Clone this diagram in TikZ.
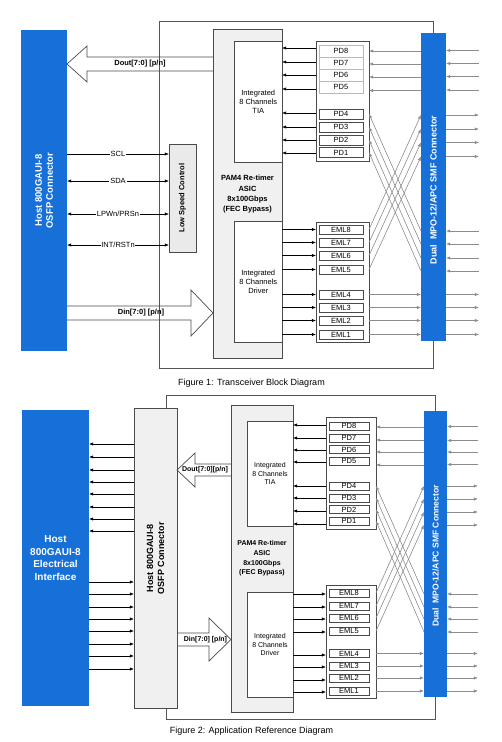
\documentclass[tikz,border=0pt]{standalone}
\usepackage{fontspec}
\setmainfont{Liberation Sans}
\usetikzlibrary{arrows.meta}
\definecolor{hblue}{HTML}{1670D8}
\definecolor{asicgray}{HTML}{F0F0F0}
\definecolor{lscgray}{HTML}{EAEAEA}
\definecolor{optgray}{HTML}{8C8C8C}
\definecolor{framegray}{HTML}{555555}
\definecolor{boxline}{HTML}{4A4A4A}
\newcommand\fsz[2]{\fontsize{#1}{#2}\selectfont}
\tikzset{
  box/.style={draw=boxline, line width=0.8pt, inner sep=0pt, outer sep=0pt},
  chip/.style={box, fill=asicgray},
  wbox/.style={box, fill=white, align=center, font=\fsz{7.5}{9}},
  bluebox/.style={fill=hblue, draw=none, inner sep=0pt, outer sep=0pt},
  cell/.style={draw=boxline, line width=0.7pt, fill=white, inner sep=0pt, outer sep=0pt, font=\fsz{7.5}{9}},
  lcell/.style={cell, draw=black!28},
  modframe/.style={draw=framegray, line width=0.8pt, inner sep=0pt, outer sep=0pt},
  elec/.style={line width=0.6pt, black, -{Latex[length=4.2pt,width=3.3pt]}},
  elecb/.style={line width=0.6pt, black, {Latex[length=4.2pt,width=3.3pt]}-{Latex[length=4.2pt,width=3.3pt]}},
  opt/.style={line width=0.6pt, optgray, -{Latex[length=4.2pt,width=3.3pt]}},
  fat/.style={draw=boxline, line width=0.7pt, line join=miter},
  sig/.style={fill=white, inner sep=0.8pt, font=\fsz{7.5}{9}},
  wlabel/.style={text=white, font=\bfseries\fsz{9.5}{11}, align=center, rotate=90},
  blabel/.style={font=\bfseries\fsz{7.5}{9}, align=center},
  caption/.style={font=\fsz{9}{11}},
}
\begin{document}
\begin{tikzpicture}[x=1pt,y=-1pt]
\useasboundingbox (0,0) rectangle (501,742);

% ================= Figure 1 =================
\node[modframe, minimum width=274, minimum height=347, anchor=north west] (f1frame) at (159,21) {};

\node[bluebox, minimum width=46, minimum height=321] (f1host) at (44,190.5) {};
\node[wlabel] (f1hostlbl) at (f1host.center) {Host 800GAUI-8\\OSFP Connector};

\node[chip, minimum width=69, minimum height=329] (f1asic) at (247.5,193.5) {};
\node[blabel, font=\bfseries\fsz{7.5}{10.3}] (f1asiclbl) at (247.5,194.5) {PAM4 Re-timer\\ASIC\\8x100Gbps\\(FEC Bypass)};
\node[wbox, minimum width=47.5, minimum height=121] (f1tia) at (258.25,101.5) {Integrated\\8 Channels\\TIA};
\node[wbox, minimum width=47.5, minimum height=121] (f1drv) at (258.25,281.5) {Integrated\\8 Channels\\Driver};

% big data arrows
\draw[fat] (f1asic.west |- 0,57) -- (87,57) -- (87,46) -- (f1host.east |- 0,64) -- (87,82) -- (87,71) -- (f1asic.west |- 0,71);
\node[blabel] (f1doutlbl) at (140,64) {Dout[7:0] [p/n]};
\draw[fat] (f1host.east |- 0,306) -- (191,306) -- (191,290) -- (f1asic.west |- 0,313) -- (191,336) -- (191,320) -- (f1host.east |- 0,320);
\node[blabel] (f1dinlbl) at (141,313) {Din[7:0] [p/n]};

% low speed control
\node[box, fill=lscgray, minimum width=27, minimum height=108] (f1lsc) at (182.5,198) {};
\node[blabel, rotate=90] (f1lsclbl) at (f1lsc.center) {Low Speed Control};
\draw[elec] (f1host.east |- 0,154) -- node[sig] (f1scl) {SCL} (f1lsc.west |- 0,154);
\draw[elecb] (f1host.east |- 0,181) -- node[sig] (f1sda) {SDA} (f1lsc.west |- 0,181);
\draw[elecb] (f1host.east |- 0,214) -- node[sig] (f1lpw) {LPWn/PRSn} (f1lsc.west |- 0,214);
\draw[elecb] (f1host.east |- 0,245) -- node[sig] (f1int) {INT/RSTn} (f1lsc.west |- 0,245);

% PD group
\node[box, fill=white, minimum width=53, minimum height=120] (f1pdbox) at (342.5,101) {};
\foreach \n/\y in {8/51,7/63,6/75,5/87}
  \node[lcell, minimum width=44, minimum height=12] (f1pd\n) at (341,\y) {PD\n};
\foreach \n/\y in {4/114,3/127,2/140,1/152.5}
  \node[cell, minimum width=44, minimum height=10] (f1pd\n) at (341,\y) {PD\n};
\foreach \y in {48,62,75,89,113,127,140,153}
  \draw[elec] (f1pdbox.west |- 0,\y) -- (f1tia.east |- 0,\y);

% EML group
\node[box, fill=white, minimum width=53, minimum height=120] (f1emlbox) at (342.5,282) {};
\foreach \n/\y in {8/229.5,7/242.5,6/255.5,5/269.5,4/294.5,3/307.5,2/320.5,1/334.5}
  \node[cell, minimum width=44, minimum height=9] (f1eml\n) at (341,\y) {EML\n};
\foreach \n in {8,...,1}
  \draw[elec] (f1drv.east |- f1eml\n) -- (f1emlbox.west |- f1eml\n);

% MPO
\node[bluebox, minimum width=25, minimum height=308] (f1mpo) at (433.5,187) {};
\node[wlabel, font=\bfseries\fsz{9}{11}] (f1mpolbl) at (433.5,190) {Dual\ \ MPO-12/APC SMF Connector};

% optical paths
\foreach \y in {51,64,77,90.5}
  \draw[opt] (f1mpo.west |- 0,\y) -- (f1pdbox.east |- 0,\y);
\foreach \y [count=\i] in {50.5,63.5,76.5,90}
  {\coordinate (f1ia\i) at (479,\y); \draw[opt] (f1ia\i) -- (f1mpo.east |- f1ia\i);}
\foreach \y [count=\i] in {115,129,142.5,156.5}
  {\coordinate (f1oa\i) at (479,\y); \draw[opt] (f1mpo.east |- f1oa\i) -- (f1oa\i);}
\foreach \n/\y in {8/115,7/129,6/142.5,5/156.5}
  \draw[opt] (f1emlbox.east |- f1eml\n) -- (f1mpo.west |- 0,\y);
\foreach \n/\y in {4/231,3/244,2/258,1/271}
  \draw[opt] (f1mpo.west |- 0,\y) -- (f1pdbox.east |- f1pd\n);
\foreach \y [count=\i] in {231,244,258,271}
  {\coordinate (f1ib\i) at (479,\y); \draw[opt] (f1ib\i) -- (f1mpo.east |- f1ib\i);}
\foreach \n in {4,...,1}
  {\draw[opt] (f1emlbox.east |- f1eml\n) -- (f1mpo.west |- f1eml\n);
   \coordinate (f1ob\n) at (479,0 |- f1eml\n);
   \draw[opt] (f1mpo.east |- f1eml\n) -- (f1ob\n);}

\node[caption] (f1cap) at (251.5,383) {Figure 1: Transceiver Block Diagram};

% ================= Figure 2 =================
\node[modframe, minimum width=269, minimum height=324, anchor=north west] (f2frame) at (166,395) {};

\node[bluebox, minimum width=67, minimum height=296] (f2host) at (55.5,558) {};
\node[text=white, font=\bfseries\fsz{10}{12.7}, align=center] (f2hostlbl) at (f2host.center) {Host\\800GAUI-8\\Electrical\\Interface};

\node[chip, minimum width=43, minimum height=300] (f2osfp) at (155.5,558) {};
\node[blabel, rotate=90, font=\bfseries\fsz{9}{11}] (f2osfplbl) at (f2osfp.center) {Host 800GAUI-8\\OSFP Connector};

\foreach \y [count=\i] in {444,457,470,482,494,507,519,531}
  \draw[elec] (f2osfp.west |- 0,\y) -- (f2host.east |- 0,\y);
\foreach \y [count=\i] in {582,594,607,619,631,644,656,669}
  \draw[elec] (f2host.east |- 0,\y) -- (f2osfp.west |- 0,\y);

\node[chip, minimum width=62, minimum height=307] (f2asic) at (262,558.5) {};
\node[blabel, font=\bfseries\fsz{7}{9.7}] (f2asiclbl) at (262,558.5) {PAM4 Re-timer\\ASIC\\8x100Gbps\\(FEC Bypass)};
\node[wbox, font=\fsz{7}{8.5}, minimum width=46, minimum height=105] (f2tia) at (270,473.5) {Integrated\\8 Channels\\TIA};
\node[wbox, font=\fsz{7}{8.5}, minimum width=46, minimum height=105] (f2drv) at (270,644.5) {Integrated\\8 Channels\\Driver};

\draw[fat] (f2asic.west |- 0,464) -- (195,464) -- (195,453) -- (f2osfp.east |- 0,470) -- (195,487) -- (195,476) -- (f2asic.west |- 0,476);
\node[blabel, font=\bfseries\fsz{7}{9}] (f2doutlbl) at (205,470) {Dout[7:0][p/n]};
\draw[fat] (f2osfp.east |- 0,633) -- (209,633) -- (209,618) -- (f2asic.west |- 0,639.5) -- (209,661) -- (209,646) -- (f2osfp.east |- 0,646);
\node[blabel, font=\bfseries\fsz{7}{9}] (f2dinlbl) at (205.5,639.5) {Din[7:0] [p/n]};

% PD group
\node[box, fill=white, minimum width=50, minimum height=112] (f2pdbox) at (351,473) {};
\foreach \n/\y in {8/426,7/438,6/449.5,5/461,4/486,3/498,2/509.5,1/521}
  \node[cell, minimum width=40, minimum height=8] (f2pd\n) at (349,\y) {PD\n};
\foreach \y in {425,438,450,462,486,498,511,524}
  \draw[elec] (f2pdbox.west |- 0,\y) -- (f2tia.east |- 0,\y);

% EML group
\node[box, fill=white, minimum width=50, minimum height=113] (f2emlbox) at (351,641.5) {};
\foreach \n/\y in {8/593,7/606,6/618,5/631,4/653.5,3/666,2/678,1/691}
  \node[cell, minimum width=40, minimum height=8] (f2eml\n) at (349,\y) {EML\n};
\foreach \n/\y in {8/594,7/607,6/619,5/632,4/655,3/667,2/680,1/692}
  \draw[elec] (f2drv.east |- 0,\y) -- (f2emlbox.west |- 0,\y);

% MPO
\node[bluebox, minimum width=23, minimum height=286] (f2mpo) at (435.5,554) {};
\node[wlabel, font=\bfseries\fsz{8.6}{11}] (f2mpolbl) at (435.5,556) {Dual\ \ MPO-12/APC SMF Connector};

\foreach \y in {427,440,452,465}
  \draw[opt] (f2mpo.west |- 0,\y) -- (f2pdbox.east |- 0,\y);
\foreach \y [count=\i] in {426.5,440.5,452,464.5}
  {\coordinate (f2ia\i) at (478,\y); \draw[opt] (f2ia\i) -- (f2mpo.east |- f2ia\i);}
\foreach \y [count=\i] in {486,499,512,525}
  {\coordinate (f2oa\i) at (478,\y); \draw[opt] (f2mpo.east |- f2oa\i) -- (f2oa\i);}
\foreach \n/\y in {8/486,7/499,6/512,5/525}
  \draw[opt] (f2emlbox.east |- f2eml\n) -- (f2mpo.west |- 0,\y);
\foreach \n/\y in {4/594,3/607,2/619,1/632}
  \draw[opt] (f2mpo.west |- 0,\y) -- (f2pdbox.east |- f2pd\n);
\foreach \y [count=\i] in {594,607,619,632}
  {\coordinate (f2ib\i) at (478,\y); \draw[opt] (f2ib\i) -- (f2mpo.east |- f2ib\i);}
\foreach \n in {4,...,1}
  {\draw[opt] (f2emlbox.east |- f2eml\n) -- (f2mpo.west |- f2eml\n);
   \coordinate (f2ob\n) at (478,0 |- f2eml\n);
   \draw[opt] (f2mpo.east |- f2eml\n) -- (f2ob\n);}

\node[caption] (f2cap) at (251.5,731) {Figure 2: Application Reference Diagram};
\end{tikzpicture}
\end{document}
